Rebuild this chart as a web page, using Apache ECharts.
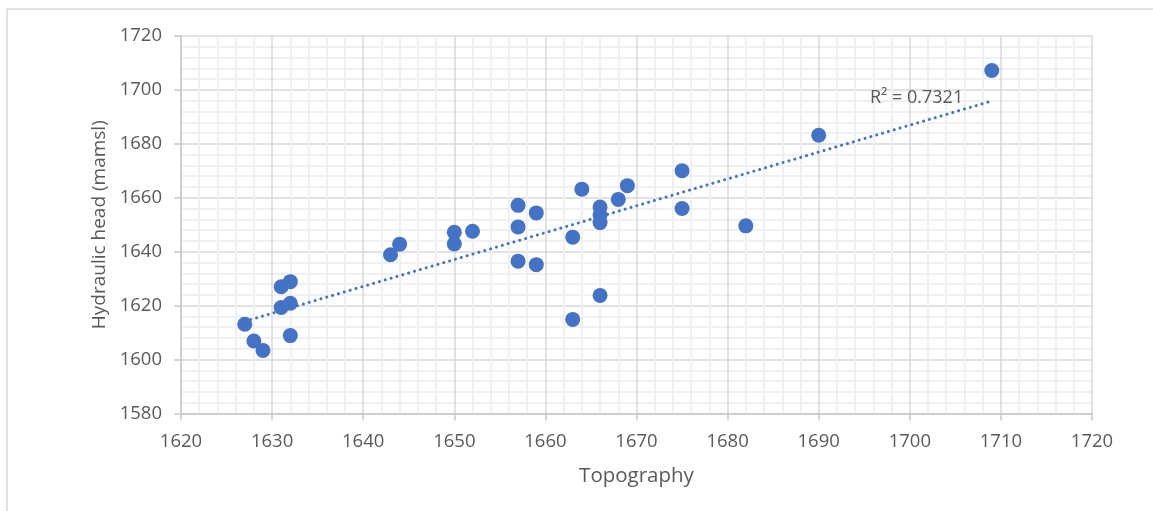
<!DOCTYPE html>
<html>
<head>
<meta charset="utf-8">
<script src="https://cdn.jsdelivr.net/npm/echarts@6/dist/echarts.min.js"></script>
<style>
html,body{margin:0;padding:0;background:#fff;}
#chart{width:1153px;height:511px;}
</style>
</head>
<body>
<div id="chart"></div>
<script>
// Topography (x) values
const topography = [
  1627, 1628, 1629, 1631, 1632, 1631, 1632, 1632,
  1643, 1644, 1650, 1650, 1652,
  1657, 1657, 1657, 1659, 1659,
  1663, 1663, 1664,
  1666, 1666, 1666, 1666,
  1668, 1669, 1675, 1675, 1682, 1690, 1709
];
// Hydraulic head (y) values
const hydraulicHead = [
  1613.1, 1606.9, 1603.4, 1627.0, 1628.9, 1619.3, 1620.9, 1608.9,
  1638.9, 1642.8, 1647.2, 1642.9, 1647.6,
  1657.2, 1649.2, 1636.5, 1654.4, 1635.2,
  1645.4, 1614.9, 1663.2,
  1656.6, 1653.6, 1650.8, 1623.8,
  1659.4, 1664.5, 1670.0, 1656.0, 1649.6, 1683.2, 1707.2
];
const r2Label = 'R² = 0.7321';
const xAxisName = 'Topography';
const yAxisName = 'Hydraulic head (mamsl)';

const points = topography.map((x, i) => [x, hydraulicHead[i]]);

// Linear least-squares trendline across the data range
const n = topography.length;
const mx = topography.reduce((a, b) => a + b, 0) / n;
const my = hydraulicHead.reduce((a, b) => a + b, 0) / n;
let sxy = 0, sxx = 0;
for (let i = 0; i < n; i++) {
  sxy += (topography[i] - mx) * (hydraulicHead[i] - my);
  sxx += (topography[i] - mx) * (topography[i] - mx);
}
const slope = sxy / sxx;
const intercept = my - slope * mx;
const xMin = Math.min(...topography), xMax = Math.max(...topography);
const trend = [[xMin, intercept + slope * xMin], [xMax, intercept + slope * xMax]];

const font = '"Open Sans", Lato, sans-serif';
const txt = '#595959';
const plain = v => String(v);

const chart = echarts.init(document.getElementById('chart'), null, {renderer: 'canvas'});
chart.setOption({
  animation: false,
  backgroundColor: '#fff',
  grid: {left: 181, right: 61, top: 36, bottom: 97.5, containLabel: false},
  xAxis: {
    type: 'value', min: 1620, max: 1720, interval: 10,
    name: xAxisName, nameLocation: 'middle', nameGap: 52,
    nameTextStyle: {color: txt, fontSize: 20.5, fontFamily: font},
    axisLine: {show: true, lineStyle: {color: '#c8c8c8', width: 1.5}},
    axisTick: {show: true, length: 7, lineStyle: {color: '#c8c8c8', width: 1.5}},
    axisLabel: {color: txt, fontSize: 18.5, fontFamily: font, margin: 19, formatter: plain},
    splitLine: {show: true, lineStyle: {color: '#d9d9d9', width: 1.5}},
    minorTick: {show: false, splitNumber: 5},
    minorSplitLine: {show: true, lineStyle: {color: '#f0f0f0', width: 2}}
  },
  yAxis: {
    type: 'value', min: 1580, max: 1720, interval: 20,
    name: yAxisName, nameLocation: 'middle', nameGap: 72, nameRotate: 90,
    nameTextStyle: {color: txt, fontSize: 19, fontFamily: font},
    axisLine: {show: true, lineStyle: {color: '#c8c8c8', width: 1.5}},
    axisTick: {show: true, length: 7, lineStyle: {color: '#c8c8c8', width: 1.5}},
    axisLabel: {color: txt, fontSize: 18.5, fontFamily: font, margin: 19, formatter: plain},
    splitLine: {show: true, lineStyle: {color: '#d9d9d9', width: 1.5}},
    minorTick: {show: false, splitNumber: 5},
    minorSplitLine: {show: true, lineStyle: {color: '#f0f0f0', width: 2}}
  },
  series: [
    {
      type: 'line',
      data: trend,
      symbol: 'none',
      z: 2,
      lineStyle: {color: '#4472C4', width: 3, type: [0.1, 6], cap: 'round'}
    },
    {
      type: 'scatter',
      data: points,
      symbolSize: 15,
      z: 3,
      itemStyle: {color: '#4472C4', opacity: 1}
    }
  ],
  graphic: [
    {type: 'rect', shape: {x: 7, y: 9, width: 1200, height: 600}, style: {fill: 'none', stroke: '#d9d9d9', lineWidth: 1.5}, z: -10, silent: true},
    {type: 'text', left: 870, top: 89, style: {text: r2Label, fill: txt, font: '18px ' + font}, z: 10}
  ]
});
</script>
</body>
</html>
